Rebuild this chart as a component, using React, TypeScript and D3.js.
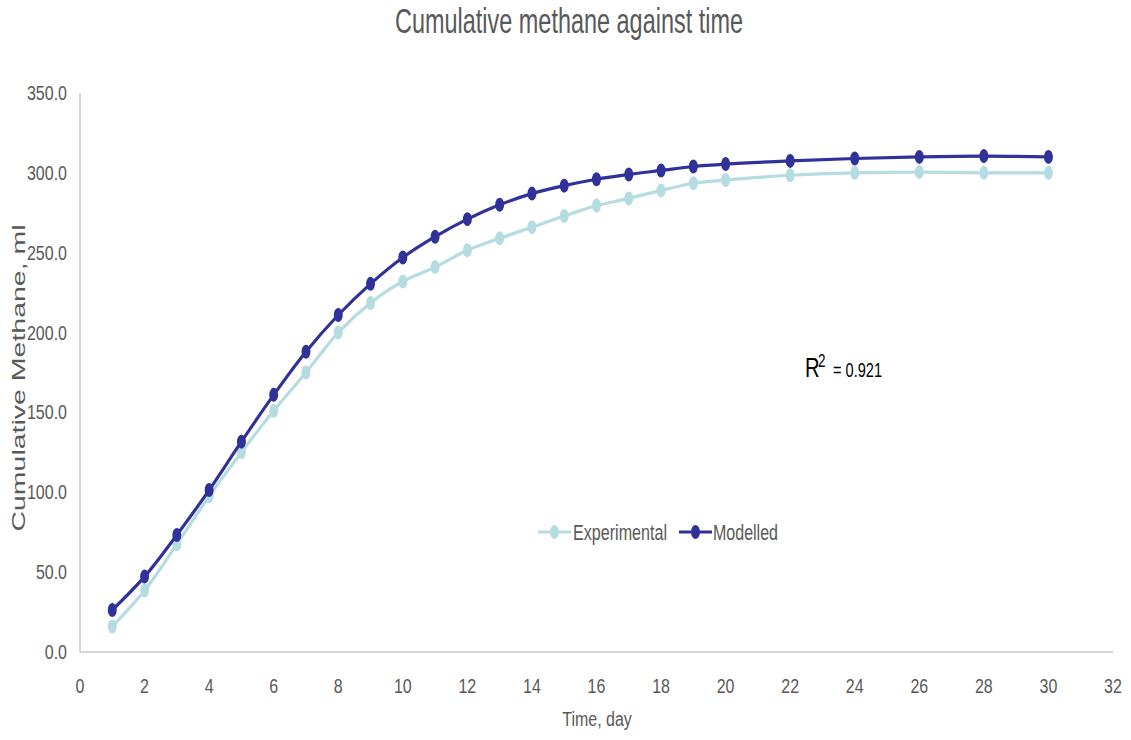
import React from 'react';
import * as d3 from 'd3';

const WIDTH = 1131;
const HEIGHT = 740;

const DAYS = [1, 2, 3, 4, 5, 6, 7, 8, 9, 10, 11, 12, 13, 14, 15, 16, 17, 18, 19, 20, 22, 24, 26, 28, 30];
const EXPERIMENTAL = [
  16, 38.5, 67.5, 97.5, 125, 151, 175, 200, 218.5, 232, 241, 251.5, 259, 266, 273, 279.5, 284, 289,
  293.5, 295.5, 298.5, 300, 300.5, 300, 300,
];
const MODELLED = [
  26.3, 47.2, 73.3, 101.4, 131.7, 161, 188, 211, 230.5, 247, 260, 271, 280, 287, 292, 296, 299, 301.5,
  304, 305.5, 307.5, 309, 310, 310.5, 310,
];
const X_TICKS = d3.range(0, 33, 2);
const Y_TICKS = d3.range(0, 351, 50);

const SERIES = [
  { name: 'Experimental', values: EXPERIMENTAL, color: '#b5dde1' },
  { name: 'Modelled', values: MODELLED, color: '#30329a' },
];

const TITLE = 'Cumulative methane against time';
const X_LABEL = 'Time, day';
const Y_LABEL = 'Cumulative Methane, ml';
const R2_VALUE = '0.921';

const TEXT = '#595959';
const AXIS = '#c8c8c8';
const FONT = '"Liberation Sans", Arial, sans-serif';
// the chart text looks squeezed sideways
const SX = 0.67;
const SX_SMALL = 0.82;

export default function App() {
  const x = d3.scaleLinear().domain([0, 32]).range([80, 1113]);
  const y = d3.scaleLinear().domain([0, 350]).range([652, 93]);

  const line = d3
    .line<number>()
    .x((_, i) => x(DAYS[i]))
    .y((d) => y(d))
    .curve(d3.curveCatmullRom.alpha(0.5));

  const squeeze = (tx: number, ty: number, sx = SX) => `translate(${tx},${ty}) scale(${sx},1)`;

  return (
    <svg
      width={WIDTH}
      height={HEIGHT}
      style={{ position: 'absolute', left: 0, top: 0, display: 'block', background: '#fff' }}
      fontFamily={FONT}
    >
      <text transform={squeeze(569, 33)} textAnchor="middle" fontSize={35} fill={TEXT}>
        {TITLE}
      </text>

      {/* axes */}
      <line x1={x(0)} x2={x(0)} y1={y(350)} y2={y(0)} stroke={AXIS} strokeWidth={1.5} />
      <line x1={x(0)} x2={x(32)} y1={y(0)} y2={y(0)} stroke={AXIS} strokeWidth={1.5} />

      {Y_TICKS.map((t) => (
        <text key={t} transform={squeeze(67, y(t) + 7, SX_SMALL)} textAnchor="end" fontSize={19.5} fill={TEXT}>
          {t.toFixed(1)}
        </text>
      ))}
      {X_TICKS.map((t) => (
        <text key={t} transform={squeeze(x(t), 693, SX_SMALL)} textAnchor="middle" fontSize={19.5} fill={TEXT}>
          {t}
        </text>
      ))}

      <text transform={squeeze(597, 726, SX_SMALL)} textAnchor="middle" fontSize={19.5} fill={TEXT}>
        {X_LABEL}
      </text>
      <text
        transform={`translate(25,378) scale(${SX},1) rotate(-90)`}
        textAnchor="middle"
        fontSize={28.5}
        fill={TEXT}
      >
        {Y_LABEL}
      </text>

      {/* series */}
      {SERIES.map((s) => (
        <g key={s.name}>
          <path d={line(s.values) ?? ''} fill="none" stroke={s.color} strokeWidth={3.2} />
          {s.values.map((v, i) => (
            <ellipse key={i} cx={x(DAYS[i])} cy={y(v)} rx={4.5} ry={7} fill={s.color} />
          ))}
        </g>
      ))}

      {/* R squared */}
      <g fill="#000">
        <text transform={squeeze(805, 377, 0.75)} fontSize={27}>R</text>
        <text transform={squeeze(818, 367, 0.75)} fontSize={18}>2</text>
        <text
          x={833}
          y={377}
          fontSize={20}
          textLength={49}
          lengthAdjust="spacingAndGlyphs"
        >{`= ${R2_VALUE}`}</text>
      </g>

      {/* legend */}
      {SERIES.map((s, i) => {
        const x0 = i === 0 ? 538 : 679;
        const tx = i === 0 ? 573 : 713;
        const len = i === 0 ? 94 : 65;
        return (
          <g key={s.name}>
            <line x1={x0} x2={x0 + 33} y1={532} y2={532} stroke={s.color} strokeWidth={3.2} />
            <ellipse cx={x0 + 16.5} cy={532} rx={4.5} ry={7} fill={s.color} />
            <text
              x={tx}
              y={540}
              fontSize={22}
              fill={TEXT}
              textLength={len}
              lengthAdjust="spacingAndGlyphs"
            >
              {s.name}
            </text>
          </g>
        );
      })}
    </svg>
  );
}
